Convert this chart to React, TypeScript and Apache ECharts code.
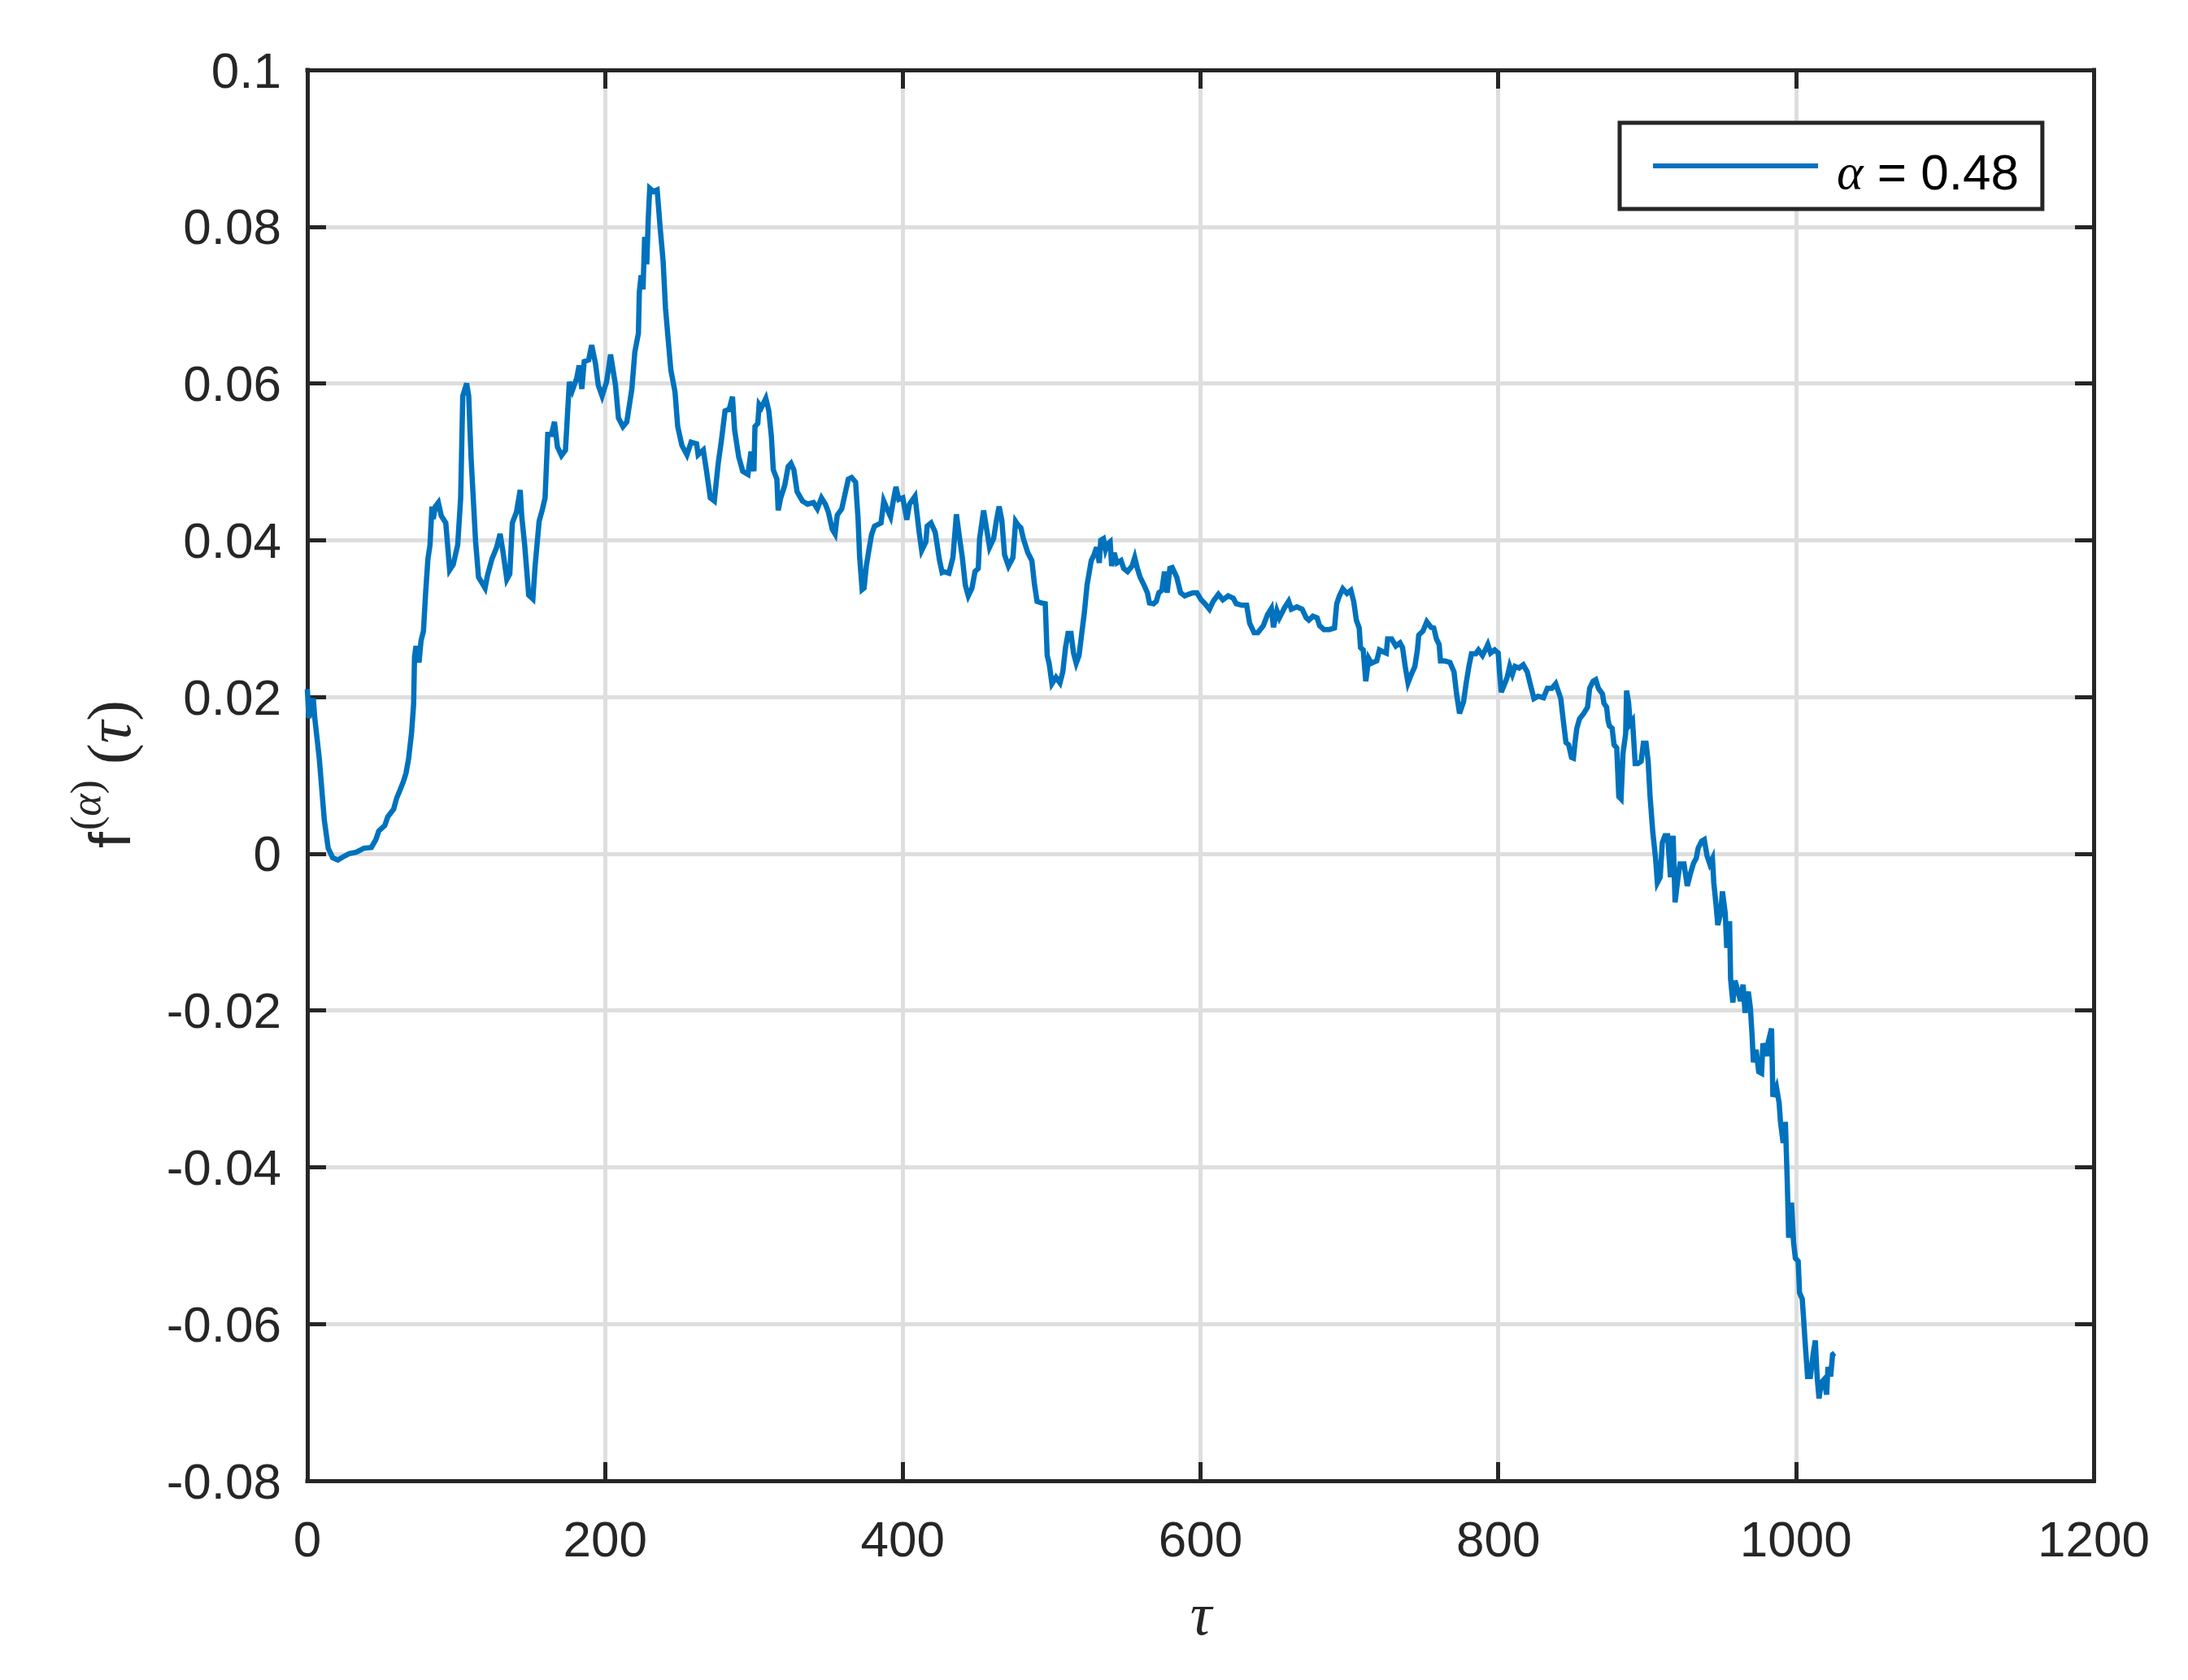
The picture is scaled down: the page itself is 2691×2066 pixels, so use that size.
import React, { useEffect, useRef } from "react";
import * as echarts from "echarts";

// τ positions
const tauValues: number[] = [
  0, 1, 4, 5, 8, 11.4, 14, 17, 20.5, 24, 28, 33, 38, 43, 46, 48, 52, 54, 58, 60,
  62, 64.5, 66.3, 68, 70, 71.4, 72, 73, 75, 76.4, 78, 79.5, 81, 82.4, 83.7, 84.6, 86, 88, 90, 93,
  95.6, 98, 101, 103, 104.4, 107, 108.4, 110, 113, 115, 119.4, 121, 124, 127, 129.5, 131.3, 134, 136, 137.7, 140.5,
  143, 144, 146, 148.7, 151.5, 153, 155.7, 158, 159.7, 161.5, 164, 166, 168, 170.7, 173.4, 176, 178, 181, 182.6, 184.4,
  186, 189, 191, 193.6, 195.4, 198, 201, 203.7, 207, 209, 212, 214.6, 218, 220, 222.4, 223, 224.2, 225.5, 226.6, 228,
  229, 230, 232.5, 235, 237, 239, 240.6, 242.4, 244.2, 247, 248.8, 251.6, 255, 257.8, 261.5, 262.5, 266, 268, 270.7, 273.4,
  276, 278, 280.6, 283.4, 285.6, 287, 289.8, 292.5, 296, 298, 300, 300.7, 302.6, 303.5, 305, 308, 310, 311.7, 313, 315.4,
  316.3, 318, 320.7, 323, 324.9, 326.8, 329, 332.6, 336, 340, 342.6, 345.4, 348, 350, 352.6, 354.5, 356, 359, 362, 363.4,
  365.6, 368.3, 370, 371, 372.7, 374, 375.5, 377.2, 379, 381, 385.4, 387.2, 389, 391.8, 393.6, 395.4, 397.3, 400, 402.7, 404.5,
  408.2, 411, 412.7, 415.5, 416.4, 419, 421.8, 424.6, 426.4, 427.4, 431, 433.7, 436, 438.2, 440, 442, 444, 446.5, 448.5, 450.7,
  451.6, 454.3, 456.5, 458.3, 461, 463, 464.7, 466.5, 468.4, 471, 474, 475.8, 477.6, 479.3, 481, 484, 486.7, 488.5, 490.2, 493,
  495.7, 497, 498.3, 500.2, 502.9, 505.6, 507.5, 509.3, 511, 513, 514.7, 516.5, 518.4, 520.2, 522, 523.8, 526.6, 528.4, 530.2, 532,
  533, 534.8, 536.2, 537.5, 539.3, 540.3, 542, 543.9, 546.6, 548.4, 551, 554, 555.8, 557.6, 559.4, 562, 564.3, 565.7, 568.5, 570.3,
  572, 574, 575.8, 577.6, 579.4, 581, 584, 586.6, 589.4, 592, 595, 597.6, 600.4, 603, 606, 608.5, 612, 615, 618.6, 622,
  624, 627.7, 631, 633, 636, 638.5, 642.2, 645, 647.6, 649, 651.3, 653, 656.5, 659.2, 661, 664.7, 668.3, 671, 672.8, 675.5,
  678.3, 680, 682.9, 686.5, 690, 691.5, 693.3, 695.6, 698.4, 701, 702.9, 704.7, 706.6, 707.5, 709.3, 711, 713, 714.8, 718.4, 720.2,
  722.4, 724.8, 725.7, 728.4, 731.2, 734, 735.7, 737.5, 739.4, 741.2, 744, 745.7, 746.6, 749.4, 752, 754.8, 756.7, 758.5, 760.3, 761.2,
  764, 767.6, 770.3, 772, 774, 776.7, 778.5, 780.3, 782, 784.9, 786.7, 789.4, 791.3, 793, 794.9, 797.6, 800, 800.7, 802, 804,
  806, 807.7, 809.5, 811.3, 814, 816.8, 819.5, 821.3, 824, 826.8, 830.4, 833, 836, 838.6, 842, 843.7, 845.5, 847.3, 849.2, 850.5,
  851.6, 852.8, 854.6, 857.4, 860, 861.4, 863.7, 865.5, 867.3, 870, 871, 872.8, 873.8, 874.7, 876.5, 877.8, 879.6, 881, 882.5, 883.8,
  885.6, 886.2, 887.5, 888.7, 890.2, 892, 893.8, 896, 897.5, 899.3, 900.7, 902, 903.8, 905.7, 906.9, 908.8, 910.2, 912, 913.8, 915.7,
  917.5, 918.8, 920.8, 922.1, 924.8, 927, 929.3, 931.2, 933, 934.3, 936.6, 938.4, 940.3, 942.1, 943.9, 944.8, 946.3, 947.5, 949.4, 950.6,
  952.5, 953.5, 955.4, 956.1, 957.6, 959, 961.2, 962.7, 964.5, 965.8, 967, 968, 969.4, 970.5, 971.4, 973.2, 975, 976.9, 977.8, 980.5,
  981.4, 983.6, 984.5, 986.9, 988.7, 989.6, 991.4, 992.9, 994.2, 995.1, 997, 998.4, 999.6, 1001.5, 1002.4, 1004.2, 1005.1, 1006, 1007.8, 1009.7,
  1011.5, 1013, 1014.2, 1015.5, 1017, 1018.8, 1020.6, 1021.5, 1023.3, 1024.6, 1026,
];

// f^(α)(τ) values
const fValues: number[] = [
  0.021, 0.0173, 0.0198, 0.0173, 0.0122, 0.0043, 0.0007, -0.0005, -0.0008, -0.0004, 0, 0.0002, 0.0007, 0.0008, 0.0018, 0.0029, 0.0036, 0.0047, 0.0057, 0.0071,
  0.008, 0.0092, 0.0103, 0.0121, 0.0154, 0.0191, 0.0251, 0.0265, 0.0244, 0.0272, 0.0284, 0.0334, 0.0376, 0.0394, 0.0443, 0.0427, 0.0443, 0.0448, 0.0431, 0.0422,
  0.0362, 0.0369, 0.0394, 0.0454, 0.0584, 0.06, 0.0584, 0.0505, 0.0399, 0.0353, 0.0339, 0.0355, 0.0376, 0.039, 0.0408, 0.0387, 0.035, 0.0357, 0.0422, 0.0436,
  0.0464, 0.0431, 0.0394, 0.033, 0.0325, 0.0367, 0.0424, 0.044, 0.0454, 0.0535, 0.0535, 0.0551, 0.0519, 0.0508, 0.0515, 0.0602, 0.0591, 0.0607, 0.0623, 0.0593,
  0.0628, 0.063, 0.0649, 0.0625, 0.0598, 0.0584, 0.0602, 0.0637, 0.0598, 0.0556, 0.0545, 0.0551, 0.0593, 0.064, 0.0664, 0.0716, 0.0738, 0.072, 0.0787, 0.0752,
  0.0809, 0.0849, 0.0845, 0.0847, 0.0799, 0.0756, 0.0696, 0.0656, 0.0617, 0.0589, 0.0545, 0.0521, 0.0509, 0.0525, 0.0523, 0.0509, 0.0515, 0.049, 0.0454, 0.045,
  0.0498, 0.0525, 0.0565, 0.0567, 0.0583, 0.0541, 0.0506, 0.0488, 0.0484, 0.0513, 0.0488, 0.0545, 0.0549, 0.0573, 0.0569, 0.0581, 0.0565, 0.0533, 0.049, 0.0478,
  0.0438, 0.0454, 0.047, 0.0494, 0.0498, 0.049, 0.0462, 0.045, 0.0446, 0.0448, 0.044, 0.0454, 0.0446, 0.0436, 0.0414, 0.0408, 0.0432, 0.044, 0.0466, 0.0478,
  0.048, 0.0474, 0.0426, 0.0379, 0.0337, 0.0339, 0.0367, 0.0387, 0.0407, 0.0418, 0.0422, 0.045, 0.0442, 0.043, 0.045, 0.0468, 0.0452, 0.0454, 0.0426, 0.0446,
  0.0456, 0.041, 0.0387, 0.0398, 0.0418, 0.0422, 0.041, 0.0375, 0.0359, 0.036, 0.0358, 0.0378, 0.0433, 0.0402, 0.0378, 0.0343, 0.0329, 0.0339, 0.036, 0.0364,
  0.0402, 0.0438, 0.0412, 0.0391, 0.0402, 0.0426, 0.0443, 0.0426, 0.0381, 0.0367, 0.0378, 0.0424, 0.0419, 0.0416, 0.0402, 0.0384, 0.0374, 0.0343, 0.0322, 0.032,
  0.0319, 0.0253, 0.0243, 0.0217, 0.0225, 0.0218, 0.0232, 0.0263, 0.0281, 0.0281, 0.0256, 0.0243, 0.0253, 0.0281, 0.0308, 0.0343, 0.0374, 0.0381, 0.0391, 0.0371,
  0.04, 0.0402, 0.0388, 0.0395, 0.0398, 0.0367, 0.0384, 0.0371, 0.0374, 0.0364, 0.036, 0.0367, 0.0378, 0.0364, 0.0353, 0.0343, 0.0333, 0.032, 0.0319, 0.0322,
  0.0333, 0.0336, 0.036, 0.0333, 0.0364, 0.0365, 0.0353, 0.0333, 0.0329, 0.0331, 0.0333, 0.0333, 0.0324, 0.0319, 0.0312, 0.0322, 0.0331, 0.0324, 0.0329, 0.0326,
  0.0319, 0.0317, 0.0317, 0.0294, 0.0282, 0.0282, 0.0291, 0.0305, 0.0313, 0.0289, 0.031, 0.0301, 0.0314, 0.0322, 0.0312, 0.0315, 0.0312, 0.0301, 0.0298, 0.0303,
  0.0301, 0.0291, 0.0286, 0.0286, 0.0288, 0.0319, 0.0329, 0.0338, 0.0332, 0.0336, 0.0322, 0.0298, 0.0288, 0.0263, 0.026, 0.022, 0.0249, 0.0243, 0.0246, 0.026,
  0.0258, 0.0256, 0.0274, 0.0274, 0.0265, 0.0269, 0.0263, 0.0239, 0.0218, 0.0227, 0.0239, 0.026, 0.0279, 0.0284, 0.0296, 0.0289, 0.0288, 0.0274, 0.0267, 0.0246,
  0.0246, 0.0244, 0.0232, 0.0204, 0.0179, 0.0194, 0.0218, 0.0239, 0.0255, 0.0255, 0.026, 0.0253, 0.026, 0.0267, 0.0256, 0.026, 0.0256, 0.0236, 0.0206, 0.0215,
  0.0225, 0.0239, 0.0229, 0.0239, 0.0237, 0.0241, 0.0232, 0.0218, 0.0198, 0.0201, 0.0199, 0.0211, 0.0211, 0.0217, 0.0198, 0.017, 0.0142, 0.0139, 0.0123, 0.0122,
  0.0142, 0.016, 0.0172, 0.0179, 0.0187, 0.0211, 0.022, 0.0222, 0.0211, 0.0204, 0.0192, 0.0187, 0.017, 0.0163, 0.016, 0.0139, 0.0135, 0.0073, 0.007, 0.0128,
  0.0153, 0.0208, 0.0194, 0.0166, 0.017, 0.0115, 0.0115, 0.0118, 0.0141, 0.0141, 0.0118, 0.0073, 0.0028, -0.0006, -0.0037, -0.003, 0.0014, 0.0023, 0.0023, -0.003,
  0.0023, -0.0062, -0.003, -0.0013, -0.0013, -0.0041, -0.0024, -0.0012, -0.0006, 0.0007, 0.0016, 0.0018, -0.0003, -0.0013, -0.0006, -0.0037, -0.0065, -0.0091, -0.0076, -0.0048,
  -0.0076, -0.012, -0.0086, -0.016, -0.019, -0.0162, -0.0176, -0.0188, -0.0167, -0.0203, -0.0183, -0.0176, -0.0197, -0.0231, -0.0266, -0.025, -0.0278, -0.028, -0.0242, -0.0258,
  -0.024, -0.0223, -0.031, -0.0298, -0.0318, -0.0342, -0.0369, -0.0342, -0.0421, -0.049, -0.0445, -0.0496, -0.0516, -0.052, -0.056, -0.0568, -0.0592, -0.0619, -0.0667, -0.0667,
  -0.0639, -0.0621, -0.0667, -0.0695, -0.0675, -0.0671, -0.069, -0.0655, -0.0667, -0.0639, -0.0637,
];

const xTicks = { min: 0, max: 1200, interval: 200 };
const yTicks = { min: -0.08, max: 0.1, interval: 0.02 };
const seriesName = "alpha";
const legendValue = "0.48";

const AXIS_COLOR = "#262626";
const GRID_COLOR = "#dedede";
const LINE_COLOR = "#0072BD";
const SANS = '"Liberation Sans", Arial, Helvetica, sans-serif';
const SERIF = '"Liberation Serif", "Times New Roman", serif';

function yFormat(v: number): string {
  const r = Math.round(v * 100) / 100;
  return String(r === 0 ? 0 : r);
}

function xFormat(v: number): string {
  return String(Math.round(v));
}

export default function App() {
  const ref = useRef<HTMLDivElement>(null);

  useEffect(() => {
    if (!ref.current) return;
    const chart = echarts.init(ref.current, null, { renderer: "svg" });
    const data = tauValues.map((t, i) => [t, fValues[i]]);

    const tickCommon = {
      show: true,
      inside: true,
      length: 23,
      lineStyle: { color: AXIS_COLOR, width: 5 },
    };
    const lineCommon = {
      show: true,
      onZero: false,
      lineStyle: { color: AXIS_COLOR, width: 5, cap: "square" },
    };

    chart.setOption({
      animation: false,
      backgroundColor: "#ffffff",
      grid: { left: 378, top: 86, right: 116, bottom: 245, containLabel: false },
      xAxis: [
        {
          type: "value",
          position: "bottom",
          min: xTicks.min,
          max: xTicks.max,
          interval: xTicks.interval,
          axisLine: lineCommon,
          axisTick: tickCommon,
          axisLabel: {
            show: true,
            margin: 40,
            fontSize: 62,
            fontFamily: SANS,
            color: AXIS_COLOR,
            formatter: xFormat,
          },
          splitLine: { show: true, lineStyle: { color: GRID_COLOR, width: 5 } },
        },
        {
          type: "value",
          position: "top",
          min: xTicks.min,
          max: xTicks.max,
          interval: xTicks.interval,
          axisLine: lineCommon,
          axisTick: tickCommon,
          axisLabel: { show: false },
          splitLine: { show: false },
        },
      ],
      yAxis: [
        {
          type: "value",
          position: "left",
          min: yTicks.min,
          max: yTicks.max,
          interval: yTicks.interval,
          axisLine: lineCommon,
          axisTick: tickCommon,
          axisLabel: {
            show: true,
            margin: 32,
            fontSize: 62,
            fontFamily: SANS,
            color: AXIS_COLOR,
            formatter: yFormat,
          },
          splitLine: { show: true, lineStyle: { color: GRID_COLOR, width: 5 } },
        },
        {
          type: "value",
          position: "right",
          min: yTicks.min,
          max: yTicks.max,
          interval: yTicks.interval,
          axisLine: lineCommon,
          axisTick: tickCommon,
          axisLabel: { show: false },
          splitLine: { show: false },
        },
      ],
      legend: {
        show: true,
        left: 1992,
        top: 151,
        orient: "horizontal",
        padding: [15, 29, 15, 41],
        itemWidth: 203,
        itemHeight: 6,
        backgroundColor: "#ffffff",
        borderColor: AXIS_COLOR,
        borderWidth: 5,
        borderRadius: 0,
        data: [{ name: seriesName, icon: "rect" }],
        formatter: () => "{a|α}{b| = " + legendValue + "}",
        textStyle: {
          fontSize: 62,
          fontFamily: SANS,
          color: "#000000",
          lineHeight: 76,
          rich: {
            a: {
              fontSize: 62,
              fontFamily: SERIF,
              fontStyle: "italic",
              color: "#000000",
              lineHeight: 76,
              verticalAlign: "bottom",
              padding: [0, 0, 0, 18],
            },
            b: {
              fontSize: 62,
              fontFamily: SANS,
              color: "#000000",
              lineHeight: 76,
              verticalAlign: "bottom",
            },
          },
        },
      },
      series: [
        {
          name: seriesName,
          type: "line",
          xAxisIndex: 0,
          yAxisIndex: 0,
          data,
          showSymbol: false,
          symbol: "none",
          color: LINE_COLOR,
          itemStyle: { color: LINE_COLOR },
          lineStyle: { color: LINE_COLOR, width: 6.5, join: "miter" },
          z: 3,
        },
      ],
      graphic: [
        {
          type: "text",
          x: 1477,
          y: 1985,
          style: {
            text: "τ",
            fontSize: 74,
            fontFamily: SERIF,
            fontStyle: "italic",
            fill: AXIS_COLOR,
            align: "center",
            verticalAlign: "middle",
            textAlign: "center",
            textVerticalAlign: "middle",
          },
        },
        {
          type: "text",
          x: 135,
          y: 1043,
          rotation: Math.PI / 2,
          style: {
            text: "f",
            fontSize: 72,
            fontFamily: SANS,
            fill: AXIS_COLOR,
            align: "left",
            verticalAlign: "middle",
            textAlign: "left",
            textVerticalAlign: "middle",
          },
        },
        {
          type: "text",
          x: 105,
          y: 1021,
          rotation: Math.PI / 2,
          style: {
            text: "({g|α})",
            fontSize: 52,
            fontFamily: SERIF,
            fill: AXIS_COLOR,
            align: "left",
            verticalAlign: "middle",
            textAlign: "left",
            textVerticalAlign: "middle",
            rich: {
              g: { fontSize: 52, fontFamily: SERIF, fontStyle: "italic", fill: AXIS_COLOR, color: AXIS_COLOR },
            },
          },
        },
        {
          type: "text",
          x: 134,
          y: 940,
          rotation: Math.PI / 2,
          style: {
            text: "({g|τ})",
            fontSize: 77,
            fontFamily: SERIF,
            fill: AXIS_COLOR,
            align: "left",
            verticalAlign: "middle",
            textAlign: "left",
            textVerticalAlign: "middle",
            rich: {
              g: { fontSize: 77, fontFamily: SERIF, fontStyle: "italic", fill: AXIS_COLOR, color: AXIS_COLOR },
            },
          },
        },
      ],
    });

    return () => {
      chart.dispose();
    };
  }, []);

  return (
    <div
      ref={ref}
      style={{ position: "absolute", left: 0, top: 0, width: 2691, height: 2066, background: "#fff" }}
    />
  );
}
